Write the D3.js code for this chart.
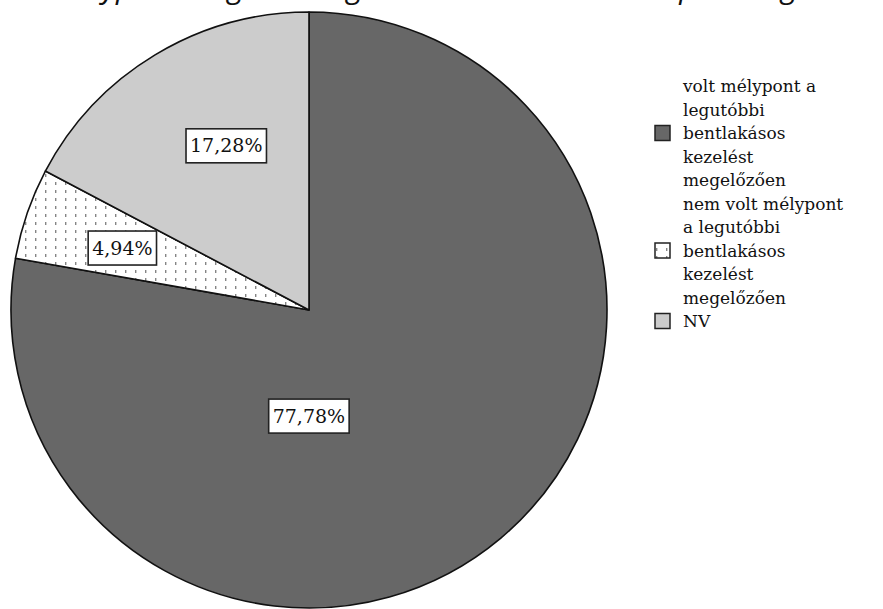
<!DOCTYPE html>
<html>
<head>
<meta charset="utf-8">
<script src="https://cdn.jsdelivr.net/npm/d3@7"></script>
<style>
  body { margin: 0; background: #fff; }
  svg { display: block; }
</style>
</head>
<body>
<script>
// Category names, values and the printed percentage labels
const categories = [
  "volt mélypont a legutóbbi bentlakásos kezelést megelőzően",
  "nem volt mélypont a legutóbbi bentlakásos kezelést megelőzően",
  "NV"
];
const legendLines = [
  ["volt mélypont a", "legutóbbi", "bentlakásos", "kezelést", "megelőzően"],
  ["nem volt mélypont", "a legutóbbi", "bentlakásos", "kezelést", "megelőzően"],
  ["NV"]
];
const values = [77.78, 4.94, 17.28];
const valueLabels = ["77,78%", "4,94%", "17,28%"];
const title = "Mélypont megléte a legutóbbi bentlakásos terápiát megelőzően";

const W = 883, H = 609;
const cx = 309, cy = 310, R = 298;
const serif = "'DejaVu Serif', 'Liberation Serif', serif";

// Where each value label sits: fraction along the slice's sweep, fraction of radius
const labelPlacement = [[0.643, 0.356], [0.47, 0.66], [0.57, 0.617]];

const svg = d3.select("body").append("svg")
  .attr("width", W).attr("height", H);

svg.append("rect").attr("width", W).attr("height", H).attr("fill", "#fff");

// Dotted fill used by the second category
const defs = svg.append("defs");
const pat = defs.append("pattern")
  .attr("id", "dots")
  .attr("patternUnits", "userSpaceOnUse")
  .attr("width", 10).attr("height", 8)
  .attr("x", 6).attr("y", 0);
pat.append("rect").attr("width", 10).attr("height", 8).attr("fill", "#fff");
pat.append("rect").attr("x", 0).attr("y", 0).attr("width", 1.4).attr("height", 3).attr("fill", "#858585");

const fills = ["#676767", "url(#dots)", "#cccccc"];
const color = d3.scaleOrdinal().domain(categories).range(fills);

// Title runs off the top edge
svg.append("text")
  .attr("x", 54).attr("y", -2.5)
  .attr("font-family", "'Open Sans', sans-serif")
  .attr("font-style", "italic")
  .attr("font-size", 30.3)
  .attr("fill", "#111")
  .text(title);

const pie = d3.pie().sort(null).value(d => d.value)
  .startAngle(0).endAngle(2 * Math.PI);
const data = categories.map((c, i) => ({ cat: c, value: values[i], label: valueLabels[i] }));
const arcs = pie(data);
const arc = d3.arc().innerRadius(0).outerRadius(R);

const g = svg.append("g").attr("transform", `translate(${cx},${cy})`);

g.selectAll("path.slice")
  .data(arcs)
  .join("path")
  .attr("class", "slice")
  .attr("d", arc)
  .attr("fill", d => color(d.data.cat))
  .attr("stroke", "#111")
  .attr("stroke-width", 1.6)
  .attr("stroke-linejoin", "round");

// Value labels in boxed callouts
function labelPos(d, i) {
  const [f, rf] = labelPlacement[i];
  const a = d.startAngle + f * (d.endAngle - d.startAngle);
  return [Math.sin(a) * R * rf, -Math.cos(a) * R * rf];
}

const lab = g.selectAll("g.lab")
  .data(arcs)
  .join("g")
  .attr("class", "lab")
  .attr("transform", (d, i) => { const p = labelPos(d, i); return `translate(${p[0]},${p[1]})`; });

lab.each(function(d) {
  const sel = d3.select(this);
  const t = sel.append("text")
    .attr("text-anchor", "middle")
    .attr("dy", "0.35em")
    .attr("font-family", serif)
    .attr("font-size", 19)
    .attr("fill", "#111")
    .text(d.data.label);
  const bb = t.node().getBBox();
  sel.insert("rect", "text")
    .attr("x", bb.x - 4).attr("y", -17)
    .attr("width", bb.width + 8).attr("height", 34)
    .attr("fill", "#fff")
    .attr("stroke", "#222")
    .attr("stroke-width", 1.6);
});

// Legend
const lineH = 23.5;
const legX = 683, firstBase = 92, swX = 655, sw = 15;
let lineIdx = 0;
legendLines.forEach((lines, i) => {
  const start = lineIdx;
  lines.forEach((ln, j) => {
    svg.append("text")
      .attr("x", legX)
      .attr("y", firstBase + (start + j) * lineH)
      .attr("font-family", serif)
      .attr("font-size", 17)
      .attr("fill", "#111")
      .text(ln);
  });
  const mid = start + (lines.length - 1) / 2;
  const centerY = firstBase + mid * lineH - 6;
  svg.append("rect")
    .attr("x", swX).attr("y", centerY - sw / 2)
    .attr("width", sw).attr("height", sw)
    .attr("fill", color(categories[i]))
    .attr("stroke", "#222")
    .attr("stroke-width", 1.5);
  lineIdx += lines.length;
});
</script>
</body>
</html>
